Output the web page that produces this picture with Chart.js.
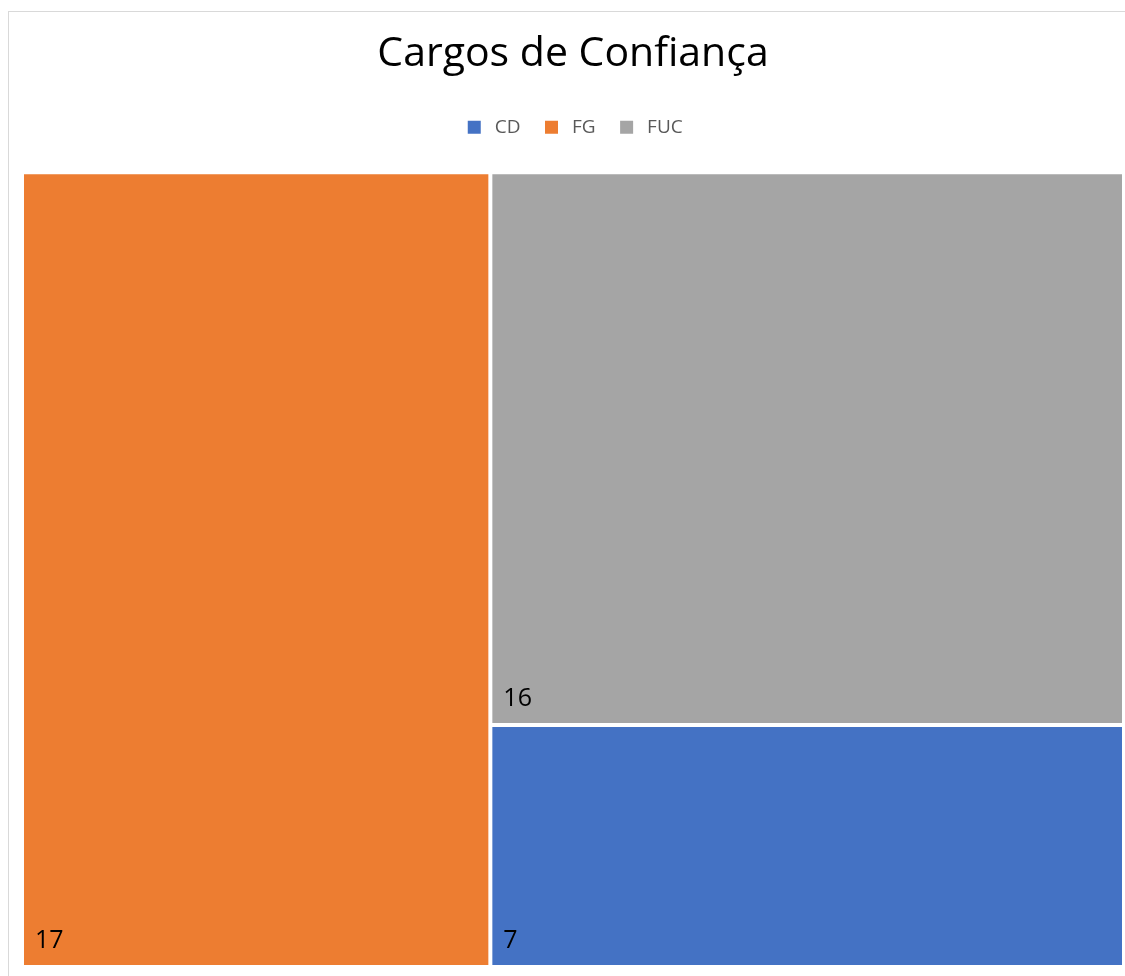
<!DOCTYPE html>
<html><head><meta charset="utf-8">
<script src="https://cdn.jsdelivr.net/npm/chart.js@4.4.1/dist/chart.umd.min.js"></script>
<style>html,body{margin:0;padding:0;background:#fff;} canvas{display:block;}</style>
</head><body>
<canvas id="c" width="1125" height="976"></canvas>
<script>
const categories = ['CD', 'FG', 'FUC'];
const values = [7, 17, 16];
const colors = ['#4472C4', '#ED7D31', '#A5A5A5'];
const titleText = 'Cargos de Confiança';

// squarified treemap layout in a rect (units proportional to pixels)
function worst(areas, side) {
  const s = areas.reduce((a, b) => a + b, 0);
  const mx = Math.max(...areas), mn = Math.min(...areas);
  return Math.max(side * side * mx / (s * s), (s * s) / (side * side * mn));
}
function squarify(vals, rect) {
  const total = vals.reduce((a, b) => a + b, 0);
  const area = rect.w * rect.h;
  let items = vals.map((v, i) => ({ i, a: v / total * area })).sort((p, q) => q.a - p.a);
  const out = [];
  let r = { ...rect };
  while (items.length) {
    const side = Math.min(r.w, r.h);
    let row = [items[0]];
    let k = 1;
    while (k < items.length) {
      const cand = row.concat([items[k]]);
      if (worst(cand.map(o => o.a), side) <= worst(row.map(o => o.a), side)) { row = cand; k++; } else break;
    }
    const rowArea = row.reduce((s, o) => s + o.a, 0);
    if (r.w >= r.h) {
      const cw = rowArea / r.h; let yy = r.y;
      row.forEach(o => { const h = o.a / cw; out[o.i] = { x: r.x, y: yy, w: cw, h }; yy += h; });
      r = { x: r.x + cw, y: r.y, w: r.w - cw, h: r.h };
    } else {
      const rh = rowArea / r.w; let xx = r.x;
      row.forEach(o => { const w = o.a / rh; out[o.i] = { x: xx, y: r.y, w, h: rh }; xx += w; });
      r = { x: r.x, y: r.y + rh, w: r.w, h: r.h - rh };
    }
    items = items.slice(row.length);
  }
  return out;
}

class TreemapController extends Chart.DatasetController {
  static id = 'treemapLite';
  static defaults = { datasetElementType: false, dataElementType: 'bar' };
  update(mode) {
    const meta = this._cachedMeta;
    this.updateElements(meta.data, 0, meta.data.length, mode);
  }
  updateElements(elements, start, count, mode) {
    const meta = this._cachedMeta;
    const xs = meta.xScale, ys = meta.yScale;
    const data = this.getDataset().data;
    const px0 = xs.getPixelForValue(0), px1 = xs.getPixelForValue(1);
    const pyb = ys.getPixelForValue(0), pyt = ys.getPixelForValue(1);
    const aspect = (px1 - px0) / (pyb - pyt);
    const rects = squarify(data, { x: 0, y: 0, w: aspect, h: 1 });
    for (let i = start; i < start + count; i++) {
      const r = rects[i];
      const left = xs.getPixelForValue(r.x / aspect);
      const right = xs.getPixelForValue((r.x + r.w) / aspect);
      const top = ys.getPixelForValue(1 - r.y);
      const bottom = ys.getPixelForValue(1 - r.y - r.h);
      this.updateElement(elements[i], i, {
        x: (left + right) / 2, y: top, base: bottom,
        width: right - left, height: bottom - top,
        horizontal: false, inflateAmount: 0, borderSkipped: {},
        options: this.resolveDataElementOptions(i, mode)
      }, mode);
    }
  }
}
Chart.register(TreemapController);

const framePlugin = {
  id: 'frame',
  beforeDraw(chart) {
    const ctx = chart.ctx;
    ctx.save();
    ctx.fillStyle = '#fff';
    ctx.fillRect(0, 0, chart.width, chart.height);
    ctx.strokeStyle = '#d9d9d9';
    ctx.lineWidth = 1;
    ctx.strokeRect(8.5, 11.5, 1200, 1000);
    ctx.restore();
  }
};

const valueLabels = {
  id: 'valueLabels',
  afterDatasetsDraw(chart) {
    const ctx = chart.ctx;
    const meta = chart.getDatasetMeta(0);
    ctx.save();
    ctx.font = '25px "Open Sans"';
    ctx.fillStyle = '#000';
    ctx.textAlign = 'left';
    ctx.textBaseline = 'alphabetic';
    meta.data.forEach((el, i) => {
      const { x, width, base } = el.getProps(['x', 'width', 'base']);
      ctx.fillText(String(chart.data.datasets[0].data[i]), x - width / 2 + 13, base - 19);
    });
    ctx.restore();
  }
};

new Chart(document.getElementById('c'), {
  type: 'treemapLite',
  data: {
    labels: categories,
    datasets: [{ data: values, backgroundColor: colors, borderColor: '#ffffff', borderWidth: 2 }]
  },
  options: {
    responsive: false,
    animation: false,
    events: [],
    layout: { padding: { left: 22, right: 1, top: 0, bottom: 9 } },
    scales: {
      x: {
        type: 'linear', position: 'top', min: 0, max: 1, display: true,
        grid: { display: false }, border: { display: false }, ticks: { display: false },
        title: { display: true, text: '', font: { size: 10 }, padding: { top: 4, bottom: 0 } }
      },
      y: { type: 'linear', min: 0, max: 1, display: false }
    },
    plugins: {
      title: {
        display: true, text: titleText, color: '#000',
        font: { family: 'Open Sans', size: 41, weight: 'normal' },
        padding: { top: 30, bottom: 17 }
      },
      legend: {
        display: true, position: 'top',
        labels: {
          boxWidth: 22, boxHeight: 22, padding: 20, color: '#595959',
          font: { family: 'Open Sans', size: 19 },
          generateLabels: () => categories.map((c, i) => ({
            text: c, fillStyle: colors[i], strokeStyle: '#ffffff', lineWidth: 9,
            fontColor: '#595959', hidden: false, index: i, datasetIndex: 0
          }))
        }
      },
      tooltip: { enabled: false }
    }
  },
  plugins: [framePlugin, valueLabels]
});
</script>
</body></html>
